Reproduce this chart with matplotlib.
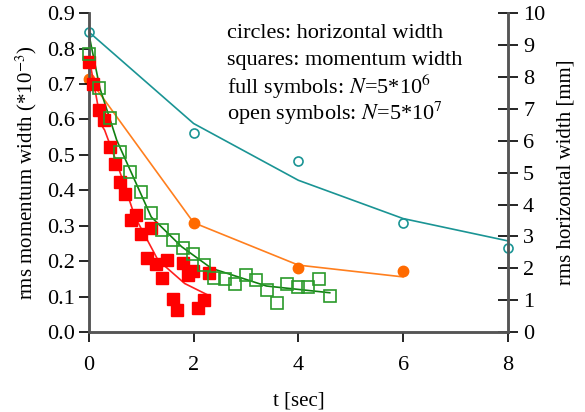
import matplotlib
matplotlib.use("Agg")
import matplotlib.pyplot as plt

plt.rcParams["font.family"] = ["Liberation Serif", "DejaVu Serif"]
plt.rcParams["mathtext.fontset"] = "stix"

# momentum width, full symbols (N=5e6), left axis [1e-3]
red_t = [0.0, 0.08, 0.19, 0.29, 0.40, 0.50, 0.59, 0.69, 0.80, 0.90, 0.99, 1.10,
         1.19, 1.29, 1.39, 1.50, 1.60, 1.69, 1.80, 1.90, 1.99, 2.09, 2.20, 2.29]
red_v = [0.763, 0.699, 0.626, 0.598, 0.523, 0.473, 0.424, 0.391, 0.316, 0.330, 0.278, 0.208,
         0.293, 0.191, 0.153, 0.203, 0.092, 0.062, 0.194, 0.161, 0.173, 0.067, 0.090, 0.167]
red_fit_t = [0.0, 0.24, 0.30, 0.56, 0.88, 1.32, 1.83, 2.28]
red_fit_v = [0.777, 0.584, 0.570, 0.466, 0.325, 0.203, 0.137, 0.104]

# momentum width, open symbols (N=5e7), left axis [1e-3]
green_t = [0.0, 0.20, 0.40, 0.59, 0.78, 0.99, 1.18, 1.39, 1.60, 1.80, 1.99, 2.19,
           2.39, 2.60, 2.79, 3.00, 3.20, 3.40, 3.59, 3.79, 4.00, 4.19, 4.40, 4.60]
green_v = [0.784, 0.688, 0.603, 0.509, 0.451, 0.396, 0.337, 0.288, 0.260, 0.236, 0.220, 0.189,
           0.153, 0.150, 0.137, 0.161, 0.147, 0.119, 0.081, 0.135, 0.128, 0.128, 0.150, 0.102]
green_fit_t = [0.0, 0.21, 0.50, 0.53, 1.19, 1.77, 2.34, 3.39, 4.60]
green_fit_v = [0.840, 0.688, 0.556, 0.542, 0.325, 0.241, 0.180, 0.130, 0.111]

# horizontal width, right axis [mm]
teal_t = [0, 2, 4, 6, 8]
teal_v = [9.41, 6.25, 5.37, 3.41, 2.65]
teal_line_v = [9.41, 6.54, 4.76, 3.56, 2.86]
orange_t = [0, 2, 4, 6]
orange_v = [7.95, 3.43, 2.02, 1.91]
orange_line_v = [7.95, 3.43, 2.10, 1.73]

FS_TICK = 16
FS_LAB = 15
FS_TXT = 16
AX_COL = "#555555"

fig = plt.figure(figsize=(5.85, 4.12), dpi=100)
ax = fig.add_axes([0.152, 0.194, 0.716, 0.774])
ax2 = ax.twinx()

ax2.plot(teal_t, teal_line_v, color="#1a9494", lw=1.2, zorder=2)
ax2.plot(teal_t, teal_v, "o", ms=6.5, mfc="none", mec="#1a9494", mew=1.2, clip_on=False, zorder=3)
ax2.plot(orange_t, orange_line_v, color="#ff7f1e", lw=1.2, zorder=2)
ax2.plot(orange_t, orange_v, "o", ms=7.5, color="#ff6a00", clip_on=False, zorder=3)

ax.plot(red_fit_t, red_fit_v, color="#ff2020", lw=1.2, zorder=2)
ax.plot(red_t, red_v, "s", ms=8.5, color="#ff0000", clip_on=False, zorder=3)
ax.plot(green_fit_t, green_fit_v, color="#108010", lw=1.2, zorder=2)
ax.plot(green_t, green_v, "s", ms=8, mfc="none", mec="#2a9a2a", mew=1.2, clip_on=False, zorder=3)

ax.set_zorder(ax2.get_zorder() + 1)
ax.patch.set_visible(False)

ax.set_xlim(0, 8)
ax.set_ylim(0, 0.9)
ax2.set_ylim(0, 10)
ax.set_xticks([0, 2, 4, 6, 8])
ax.set_yticks([i / 10 for i in range(10)])
ax.set_yticklabels([f"{i / 10:.1f}" for i in range(10)])
ax2.set_yticks(range(11))

for a in (ax, ax2):
    a.spines["top"].set_visible(False)
    for s in ("left", "right", "bottom"):
        a.spines[s].set_color(AX_COL)
        a.spines[s].set_linewidth(1.8)
ax.tick_params(direction="out", length=7, width=1.2, color="black",
               labelsize=FS_TICK, pad=3)
ax.tick_params(axis="x", pad=10)
ax2.tick_params(direction="inout", length=14, width=1.2, color="black",
                labelsize=FS_TICK, pad=4)

ax.set_xlabel("t [sec]", fontsize=FS_LAB, labelpad=12)
ax.set_ylabel("rms momentum width (*10$^{-3}$)", fontsize=FS_LAB, labelpad=6)
ax2.set_ylabel("rms horizontal width [mm]", fontsize=FS_LAB, labelpad=8)

txt = ["circles: horizontal width",
       "squares: momentum width",
       "full symbols: $N$=5*10$^6$",
       "open symbols: $N$=5*10$^7$"]
for i, s in enumerate(txt):
    ax.text(0.33, 0.935 - i * 0.083, s, transform=ax.transAxes, fontsize=FS_TXT,
            va="center", ha="left")

fig.savefig("out.png", dpi=100)
